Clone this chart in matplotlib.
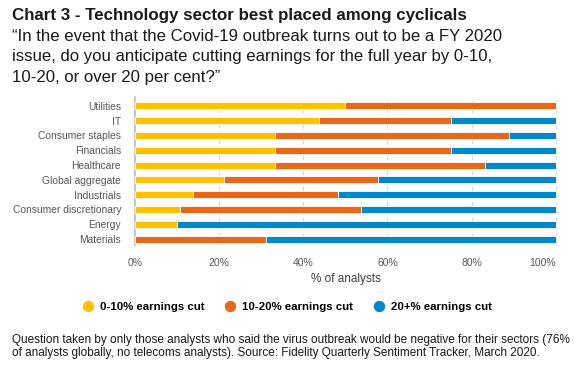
import matplotlib
matplotlib.use("Agg")
import matplotlib.pyplot as plt
from matplotlib.lines import Line2D
import numpy as np

plt.rcParams['font.family'] = ['Liberation Sans', 'DejaVu Sans']

categories = ["Utilities", "IT", "Consumer staples", "Financials", "Healthcare",
              "Global aggregate", "Industrials", "Consumer discretionary", "Energy", "Materials"]
cut_0_10 = [50.0, 43.75, 33.3, 33.3, 33.3, 21.2, 13.8, 10.7, 10.0, 0.0]
cut_10_20 = [50.0, 31.25, 55.6, 41.7, 50.0, 36.5, 34.5, 42.9, 0.0, 31.2]
cut_20_plus = [0.0, 25.0, 11.1, 25.0, 16.7, 42.3, 51.7, 46.4, 90.0, 68.8]
series_names = ["0-10% earnings cut", "10-20% earnings cut", "20+% earnings cut"]
colors = ["#FFC000", "#E8681A", "#0088C9"]
x_ticks = [0, 20, 40, 60, 80, 100]

W, H = 580, 371
fig = plt.figure(figsize=(W / 100, H / 100), dpi=100)
ax = fig.add_axes([135 / W, 1 - 245 / H, (557 - 135) / W, (245 - 97) / H])

y = np.arange(len(categories))
left = np.zeros(len(categories))
for vals, c, name in zip([cut_0_10, cut_10_20, cut_20_plus], colors, series_names):
    v = np.array(vals)
    ax.barh(y, v, left=left, height=0.47, color=c, edgecolor="white", linewidth=0.6,
            label=name, zorder=3)
    left += v

ax.set_ylim(9.4, -0.6)
ax.set_xlim(0, 100.3)
ax.set_yticks(y)
ax.set_yticklabels(categories, fontsize=7.4, color="#595959")
ax.set_xticks(x_ticks)
xt = ax.set_xticklabels([f"{t}%" for t in x_ticks], fontsize=7.5, color="#595959")
xt[-1].set_horizontalalignment("right")
ax.tick_params(axis="y", length=0, pad=10)
ax.tick_params(axis="x", length=0, pad=9)
ax.grid(axis="x", color="#D9D9D9", linestyle=(0, (4, 3)), linewidth=0.8, zorder=0)
for s in ["top", "right", "bottom"]:
    ax.spines[s].set_visible(False)
ax.spines["left"].set_color("#BFBFBF")
ax.spines["left"].set_linewidth(1.2)
ax.set_xlabel("% of analysts", fontsize=8.5, color="#404040", labelpad=4)

fig.text(12 / W, 1 - 20 / H, "Chart 3 - Technology sector best placed among cyclicals",
         fontsize=12.2, fontweight="bold", va="baseline", ha="left", color="#1a1a1a")
sub_lines = ["\u201cIn the event that the Covid-19 outbreak turns out to be a FY 2020",
             "issue, do you anticipate cutting earnings for the full year by 0-10,",
             "10-20, or over 20 per cent?\u201d"]
for line, base in zip(sub_lines, [41, 61.5, 82]):
    fig.text(12 / W, 1 - base / H, line, fontsize=12.1, va="baseline", ha="left",
             color="#1a1a1a")

handles = [Line2D([0], [0], marker="o", color="none", markerfacecolor=c,
                  markeredgecolor=c, markersize=7.2) for c in colors]
fig.legend(handles, series_names, loc="center", bbox_to_anchor=(287 / W, 1 - 306.5 / H),
           ncol=3, frameon=False, prop={"weight": "bold", "size": 8.2},
           handletextpad=0.59, columnspacing=1.72, handlelength=1.0,
           borderpad=0, borderaxespad=0)

foot_lines = ["Question taken by only those analysts who said the virus outbreak would be negative for their sectors (76%",
              "of analysts globally, no telecoms analysts). Source: Fidelity Quarterly Sentiment Tracker, March 2020."]
for line, base, fs in zip(foot_lines, [343, 356.3], [8.5, 8.45]):
    fig.text(12 / W, 1 - base / H, line, fontsize=fs, va="baseline", ha="left",
             color="#1a1a1a")

fig.savefig("out.png", dpi=100)
